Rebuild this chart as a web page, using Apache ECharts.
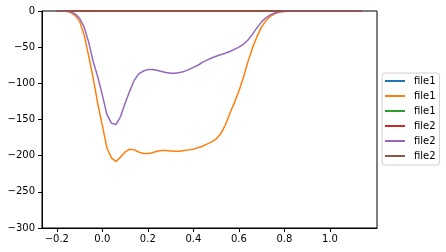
<!DOCTYPE html>
<html>
<head>
<meta charset="utf-8">
<script src="https://cdn.jsdelivr.net/npm/echarts@6/dist/echarts.min.js"></script>
<style>
  html, body { margin: 0; padding: 0; background: #fff; }
  #chart { width: 446px; height: 252px; }
</style>
</head>
<body>
<div id="chart"></div>
<script>
const xs = [
  -0.20, -0.18, -0.16, -0.14, -0.12, -0.10, -0.08, -0.06, -0.04, -0.02,
  0.00, 0.02, 0.04, 0.06, 0.08, 0.10, 0.12, 0.14, 0.16, 0.18,
  0.20, 0.22, 0.24, 0.26, 0.28, 0.30, 0.32, 0.34, 0.36, 0.38,
  0.40, 0.42, 0.44, 0.46, 0.48, 0.50, 0.52, 0.54, 0.56, 0.58,
  0.60, 0.62, 0.64, 0.66, 0.68, 0.70, 0.72, 0.74, 0.76, 0.78,
  0.80, 0.82, 0.84, 0.86, 0.88, 0.90, 0.92, 0.94, 0.96, 0.98,
  1.00, 1.02, 1.04, 1.06, 1.08, 1.10, 1.12, 1.14
]

const file1A = [
  0, 0, 0, 0, 0, 0, 0, 0, 0, 0, 0, 0, 0, 0, 0, 0, 0,
  0, 0, 0, 0, 0, 0, 0, 0, 0, 0, 0, 0, 0, 0, 0, 0, 0,
  0, 0, 0, 0, 0, 0, 0, 0, 0, 0, 0, 0, 0, 0, 0, 0, 0,
  0, 0, 0, 0, 0, 0, 0, 0, 0, 0, 0, 0, 0, 0, 0, 0, 0
]
const file1B = [
  0, 0, -0.5, -2, -6, -14, -33, -62, -93, -128,
  -158, -189, -203, -208, -202, -195, -191, -192, -195, -197,
  -197, -196, -194, -193, -193, -193.5, -194, -194, -193, -192,
  -191, -189, -187, -184, -181, -177, -170, -158, -142, -127,
  -111, -92, -70, -51, -35, -22, -13, -7, -3.5, -1.5,
  -0.6, -0.2, 0, 0, 0, 0, 0, 0, 0, 0,
  0, 0, 0, 0, 0, 0, 0, 0
]
const file1C = [
  0, 0, 0, 0, 0, 0, 0, 0, 0, 0, 0, 0, 0, 0, 0, 0, 0,
  0, 0, 0, 0, 0, 0, 0, 0, 0, 0, 0, 0, 0, 0, 0, 0, 0,
  0, 0, 0, 0, 0, 0, 0, 0, 0, 0, 0, 0, 0, 0, 0, 0, 0,
  0, 0, 0, 0, 0, 0, 0, 0, 0, 0, 0, 0, 0, 0, 0, 0, 0
]
const file2A = [
  0, 0, 0, 0, 0, 0, 0, 0, 0, 0, 0, 0, 0, 0, 0, 0, 0,
  0, 0, 0, 0, 0, 0, 0, 0, 0, 0, 0, 0, 0, 0, 0, 0, 0,
  0, 0, 0, 0, 0, 0, 0, 0, 0, 0, 0, 0, 0, 0, 0, 0, 0,
  0, 0, 0, 0, 0, 0, 0, 0, 0, 0, 0, 0, 0, 0, 0, 0, 0
]
const file2B = [
  0, 0, 0, -1, -4, -10, -22, -43, -70, -91,
  -116, -143, -155, -157, -146, -128, -111, -96, -87, -83,
  -81, -81, -82, -83.5, -85, -86, -86, -85, -83.5, -81,
  -78, -75, -71, -68, -65, -62.5, -60.5, -58.5, -56, -53,
  -50, -46, -40, -32, -23, -15, -9, -5, -2.5, -1,
  -0.4, -0.1, 0, 0, 0, 0, 0, 0, 0, 0,
  0, 0, 0, 0, 0, 0, 0, 0
]
const file2C = [
  0, 0, 0, 0, 0, 0, 0, 0, 0, 0, 0, 0, 0, 0, 0, 0, 0,
  0, 0, 0, 0, 0, 0, 0, 0, 0, 0, 0, 0, 0, 0, 0, 0, 0,
  0, 0, 0, 0, 0, 0, 0, 0, 0, 0, 0, 0, 0, 0, 0, 0, 0,
  0, 0, 0, 0, 0, 0, 0, 0, 0, 0, 0, 0, 0, 0, 0, 0, 0
]

const xTicks = [-0.2, 0.0, 0.2, 0.4, 0.6, 0.8, 1.0]
const seriesNames = ['file1#1', 'file1#2', 'file1#3', 'file2#1', 'file2#2', 'file2#3']
const seriesValues = [file1A, file1B, file1C, file2A, file2B, file2C]
const colors = ['#1f77b4', '#ff7f0e', '#2ca02c', '#d62728', '#9467bd', '#8c564b']

const FONT = 'DejaVu Sans'
const minus = s => String(s).replace('-', '\u2212')

const chart = echarts.init(document.getElementById('chart'), null, { renderer: 'canvas' })

chart.setOption({
  animation: false,
  color: colors,
  grid: {
    left: 42,
    right: 69,
    top: 11,
    bottom: 24,
    show: true,
    borderColor: '#000',
    borderWidth: 1,
  },
  legend: {
    orient: 'vertical',
    left: 382,
    top: 73,
    icon: 'rect',
    itemWidth: 20,
    itemHeight: 2,
    itemGap: 3,
    padding: [2, 4, 3, 3],
    borderColor: '#d0d0d0',
    borderWidth: 1,
    borderRadius: 3,
    backgroundColor: '#fff',
    data: seriesNames,
    formatter: name => name.split('#')[0],
    textStyle: {
      fontFamily: FONT,
      fontSize: 10,
      lineHeight: 12,
      color: '#000',
      padding: [0, 0, 0, 4],
    },
  },
  xAxis: {
    type: 'value',
    min: -0.265,
    max: 1.207,
    splitLine: { show: false },
    axisLine: { show: true, onZero: false, lineStyle: { color: '#000', width: 1 } },
    axisTick: {
      show: true,
      inside: false,
      length: 4,
      customValues: xTicks,
      lineStyle: { color: '#000' },
    },
    axisLabel: {
      customValues: xTicks,
      margin: 6,
      fontFamily: FONT,
      fontSize: 10,
      color: '#000',
      formatter: v => minus(v.toFixed(1)),
    },
  },
  yAxis: {
    type: 'value',
    min: -300,
    max: 0,
    interval: 50,
    splitLine: { show: false },
    axisLine: { show: true, onZero: false, lineStyle: { color: '#000', width: 1 } },
    axisTick: { show: true, inside: false, length: 4, lineStyle: { color: '#000' } },
    axisLabel: {
      margin: 7,
      fontFamily: FONT,
      fontSize: 10,
      color: '#000',
      formatter: v => minus(v),
    },
  },
  series: seriesNames.map((name, i) => ({
    name,
    type: 'line',
    showSymbol: false,
    symbol: 'none',
    clip: false,
    lineStyle: { width: 1.5, color: colors[i] },
    itemStyle: { color: colors[i] },
    data: xs.map((x, j) => [x, seriesValues[i][j]]),
  })),
})
</script>
</body>
</html>
